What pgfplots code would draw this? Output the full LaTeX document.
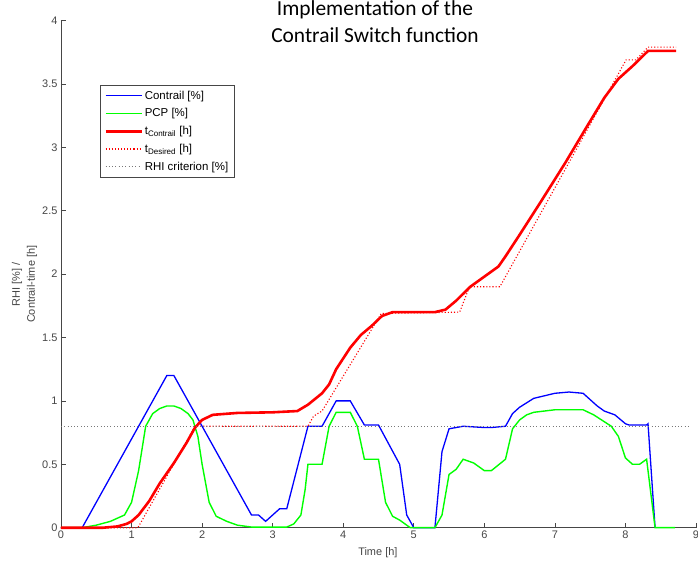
\documentclass[border=0pt]{standalone}
\usepackage{fontspec}
\setmainfont{Liberation Sans}
\newfontfamily\titlefont{Carlito}
\usepackage{pgfplots}
\pgfplotsset{compat=1.18}

\definecolor{axgray}{RGB}{70,70,70}
\definecolor{cblue}{RGB}{0,0,255}
\definecolor{cgreen}{RGB}{0,255,0}
\definecolor{cred}{RGB}{255,0,0}
\definecolor{critgray}{RGB}{120,120,120}

\tikzset{
  contrail/.style={draw=cblue, line width=1.3bp},
  pcp/.style={draw=cgreen, line width=1.4bp},
  tcon/.style={draw=cred, line width=2.6bp},
  tdes/.style={draw=cred, line width=1.1bp, dash pattern=on 1.1bp off 2bp},
  rhi/.style={draw=critgray, line width=0.8bp, dash pattern=on 0.8bp off 2.5bp},
}

\begin{document}
\begin{tikzpicture}
\useasboundingbox (-61bp,-41.3bp) rectangle (637bp,527.7bp);
\begin{axis}[
  scale only axis, width=635bp, height=507.2bp,
  xmin=0, xmax=9, ymin=0, ymax=4,
  clip=false,
  axis x line*=bottom, axis y line*=left,
  axis line style={axgray, line width=0.6pt, -},
  xtick={0,1,...,9}, ytick={0,0.5,...,4},
  tick align=inside, major tick length=5bp,
  tick style={axgray, line width=0.6pt},
  ticklabel style={font=\fontsize{11}{13}\selectfont, text=axgray},
  /pgf/number format/assume math mode=true,
  xlabel={Time [h]},
  xlabel style={font=\fontsize{11}{13}\selectfont, text=axgray,
    at={(axis description cs:0.499,0)}, anchor=base, yshift=-28bp},
  ylabel={RHI [\%] /\\Contrail-time [h]},
  ylabel style={font=\fontsize{11}{15}\selectfont, text=axgray, align=center,
    at={(axis description cs:-0.0575,0.48)}, anchor=center},
  legend cell align=left,
  legend style={at={(axis description cs:0.0614,0.8728)}, anchor=north west,
    draw=axgray, line width=0.5pt, font=\fontsize{11.5}{13.5}\selectfont,
    row sep=4bp, inner xsep=4bp, inner ysep=3.5bp},
]

% Contrail coverage
\addplot[contrail, legend image code/.code={\draw[contrail] (0bp,0bp) -- (36bp,0bp);}] coordinates {
 (0,0) (0.3,0) (1.5,1.2) (1.6,1.2) (2.7,0.1) (2.8,0.1) (2.9,0.05) (3.1,0.15)
 (3.2,0.15) (3.5,0.8) (3.7,0.8) (3.9,1.0) (4.1,1.0) (4.3,0.81) (4.5,0.81)
 (4.8,0.5) (4.9,0.1) (5.0,0) (5.3,0) (5.4,0.6) (5.5,0.78) (5.7,0.8) (6.0,0.79)
 (6.1,0.79) (6.3,0.8) (6.4,0.9) (6.5,0.95) (6.7,1.02) (7.0,1.06) (7.2,1.07)
 (7.4,1.06) (7.6,0.96) (7.7,0.92) (7.85,0.89) (8.0,0.82) (8.05,0.81) (8.3,0.81)
 (8.32,0.82) (8.42,0)
};
\addlegendentry{Contrail [\%]}

% Potential contrail coverage
\addplot[pcp, legend image code/.code={\draw[pcp] (0bp,0bp) -- (36bp,0bp);}] coordinates {
 (0,0) (0.3,0) (0.5,0.02) (0.7,0.05) (0.9,0.1) (1.0,0.2) (1.1,0.45) (1.2,0.8)
 (1.3,0.9) (1.4,0.94) (1.5,0.96) (1.6,0.96) (1.7,0.94) (1.8,0.9) (1.87,0.85)
 (1.94,0.72) (2.0,0.5) (2.1,0.2) (2.2,0.09) (2.35,0.05) (2.5,0.02) (2.7,0.005)
 (3.2,0.005) (3.3,0.03) (3.4,0.1) (3.46,0.3) (3.5,0.5) (3.7,0.5) (3.8,0.8)
 (3.9,0.91) (4.1,0.91) (4.2,0.8) (4.3,0.54) (4.5,0.54) (4.6,0.2) (4.7,0.09)
 (4.8,0.06) (4.95,0) (5.3,0) (5.4,0.1) (5.5,0.42) (5.6,0.46) (5.7,0.54)
 (5.85,0.51) (6.0,0.45) (6.1,0.45) (6.3,0.54) (6.4,0.78) (6.5,0.85) (6.6,0.89)
 (6.7,0.91) (7.0,0.93) (7.4,0.93) (7.55,0.89) (7.8,0.8) (7.9,0.72) (8.0,0.55)
 (8.1,0.5) (8.2,0.5) (8.3,0.54) (8.42,0) (8.7,0)
};
\addlegendentry{PCP [\%]}

% Accumulated contrail time
\addplot[tcon, legend image code/.code={\draw[tcon] (0bp,0bp) -- (36bp,0bp);}] coordinates {
 (0,0) (0.6,0) (0.8,0.01) (0.93,0.03) (1.0,0.05) (1.1,0.1) (1.25,0.21)
 (1.4,0.35) (1.6,0.51) (1.78,0.67) (1.9,0.79) (2.0,0.85) (2.15,0.89)
 (2.5,0.905) (3.0,0.91) (3.35,0.92) (3.5,0.97) (3.7,1.06) (3.8,1.13)
 (3.9,1.25) (4.1,1.42) (4.25,1.52) (4.4,1.59) (4.55,1.67) (4.7,1.70)
 (5.3,1.70) (5.45,1.72) (5.6,1.79) (5.8,1.9) (6.0,1.98) (6.2,2.06) (6.3,2.14)
 (6.5,2.31) (6.8,2.57) (7.15,2.88) (7.45,3.16) (7.7,3.39) (7.9,3.54)
 (8.1,3.64) (8.32,3.76) (8.72,3.76)
};
\addlegendentry{t\textsubscript{Contrail} [h]}

% Desired contrail time
\addplot[tdes, legend image code/.code={\draw[tdes] (0bp,0bp) -- (36bp,0bp);}] coordinates {
 (0,0) (1.09,0) (1.9,0.8) (3.5,0.8) (3.58,0.88) (3.7,0.92) (4.54,1.69)
 (5.65,1.70) (5.79,1.9) (6.22,1.9) (8.01,3.69) (8.15,3.69) (8.32,3.79)
 (8.72,3.79)
};
\addlegendentry{t\textsubscript{Desired} [h]}

% RHI threshold
\addplot[rhi, legend image code/.code={\draw[rhi] (0bp,0bp) -- (36bp,0bp);}] coordinates {
 (0,0.8) (8.9,0.8)
};
\addlegendentry{RHI criterion [\%]}

\end{axis}
\node[font=\titlefont\fontsize{21.5}{26}\selectfont, anchor=base] at (314bp,511.7bp) {Implementation of the};
\node[font=\titlefont\fontsize{21.5}{26}\selectfont, anchor=base] at (314bp,485.5bp) {Contrail Switch function};
\end{tikzpicture}
\end{document}
